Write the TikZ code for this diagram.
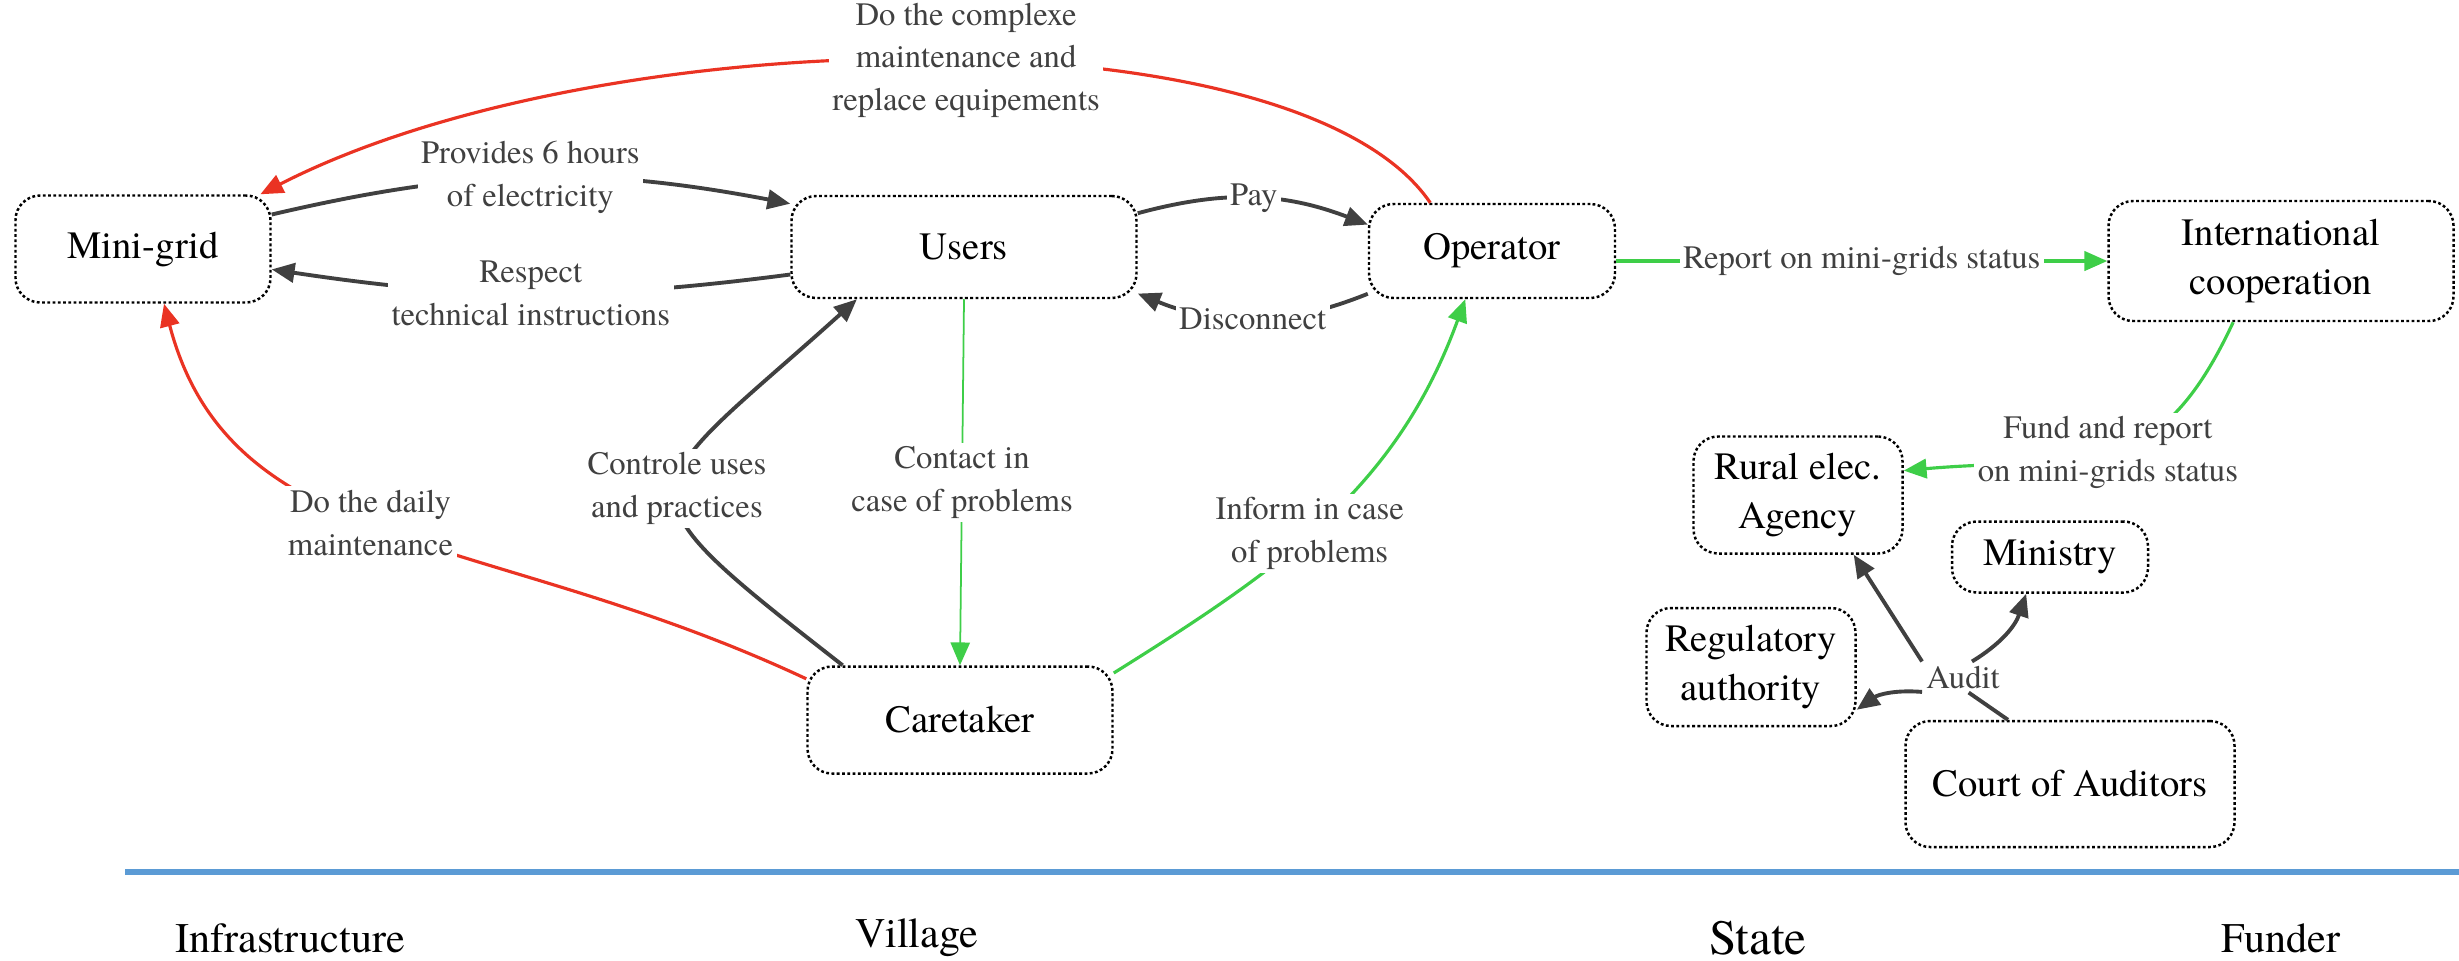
\documentclass[tikz,border=0pt]{standalone}
\usepackage{fontspec}
\setmainfont{TeX Gyre Termes}
\usetikzlibrary{arrows.meta}
\definecolor{flowgrey}{RGB}{64,64,64}
\definecolor{flowred}{RGB}{234,51,35}
\definecolor{flowgreen}{RGB}{62,206,72}
\definecolor{rulebl}{RGB}{91,155,213}
\begin{document}
\begin{tikzpicture}[
  actor/.style={draw,line width=0.7pt,dash pattern=on 0.8pt off 0.7pt,rounded corners=7pt,align=center,font=\fontsize{11}{14}\selectfont,inner sep=2pt},
  note/.style={text=flowgrey,align=center,font=\fontsize{9.3}{12.2}\selectfont,fill=white,inner sep=1pt},
  arr/.style={-{Triangle[length=6.5pt,width=5.5pt]}},
  dark/.style={flowgrey,line width=1.1pt},
  redline/.style={flowred,line width=0.9pt},
  greenline/.style={flowgreen,line width=0.9pt},
  part/.style={font=\fontsize{12}{14}\selectfont}
]
\useasboundingbox (0,0) rectangle (24.59,-9.60);
% actors
\node[actor,minimum width=2.55cm,minimum height=1.07cm] (mg) at (1.43,-2.49) {Mini-grid};
\node[actor,minimum width=3.45cm,minimum height=1.02cm] (users) at (9.64,-2.47) {Users};
\node[actor,minimum width=2.46cm,minimum height=0.94cm] (op) at (14.92,-2.51) {Operator};
\node[actor,minimum width=3.45cm,minimum height=1.20cm] (intl) at (22.81,-2.61) {International\\cooperation};
\node[actor,minimum width=3.05cm,minimum height=1.07cm] (care) at (9.60,-7.20) {Caretaker};
\node[actor,minimum width=2.09cm,minimum height=1.17cm] (rural) at (17.98,-4.95) {Rural elec.\\Agency};
\node[actor,minimum width=1.96cm,minimum height=0.71cm] (min) at (20.50,-5.57) {Ministry};
\node[actor,minimum width=2.09cm,minimum height=1.18cm] (reg) at (17.51,-6.67) {Regulatory\\authority};
\node[actor,minimum width=3.29cm,minimum height=1.26cm] (cour) at (20.70,-7.84) {Court of Auditors};
% flows
\draw[redline,arr] (op.142) .. controls +(-1.32,1.94) and +(3.43,1.76) .. node[note,pos=0.47] (cplx) {Do the complexe\\maintenance and\\replace equipements} (mg.25);
\draw[dark,arr] (mg.15) to[bend left=12] node[note] (prov) {Provides 6 hours\\of electricity} (users.166);
\draw[dark,arr] (users.189) to[bend left=8] node[note] (resp) {Respect\\technical instructions} (mg.-9);
\draw[dark,arr] (users.11) to[bend left=18] node[note] (pay) {Pay} (op.168);
\draw[dark,arr] (op.199) to[bend left=22] node[note] (disc) {Disconnect} (users.-15);
\draw[greenline,arr] (op.east |- intl.west) -- node[note] (rep) {Report on mini-grids status} (intl.west);
\draw[greenline,arr] (intl.232) to[out=245,in=5,looseness=1.3] node[note,pos=0.5] (fund) {Fund and report\\on mini-grids status} (rural.13);
\draw[greenline,arr,line width=0.5pt] (users.south) -- node[note] (cont) {Contact in\\case of problems} (care.north);
\draw[greenline,arr] (care.17) to[out=32,in=250] node[note,pos=0.45] (inf) {Inform in case\\of problems} (op.241);
\draw[dark,arr] (care.155) to[out=142,in=222,looseness=2.1] node[note] (ctrl) {Controle uses\\and practices} (users.206);
\draw[redline,arr] (care.165) .. controls +(-3.2,1.5) and +(0.67,-2.55) .. node[note,pos=0.53] (daily) {Do the daily\\maintenance} (mg.-69);
% audit
\node[note,fill=none] (audit) at (19.63,-6.77) {Audit};
\draw[dark] (cour.134) -- (audit.-70);
\draw[dark,arr] (audit.north west) -- (rural.-47);
\draw[dark,arr] (audit.60) to[bend right=20] (min.237);
\draw[dark,arr] (audit.200) to[bend right=20] (reg.-22);
% levels
\draw[rulebl,line width=1.7pt] (1.25,-8.72) -- (24.59,-8.72);
\node[part] (infra) at (2.90,-9.38) {Infrastructure};
\node[part] (vill) at (9.17,-9.38) {Village};
\node[part,font=\fontsize{14}{16}\selectfont] (state) at (17.58,-9.38) {State};
\node[part] (funder) at (22.81,-9.38) {Funder};
\end{tikzpicture}
\end{document}
